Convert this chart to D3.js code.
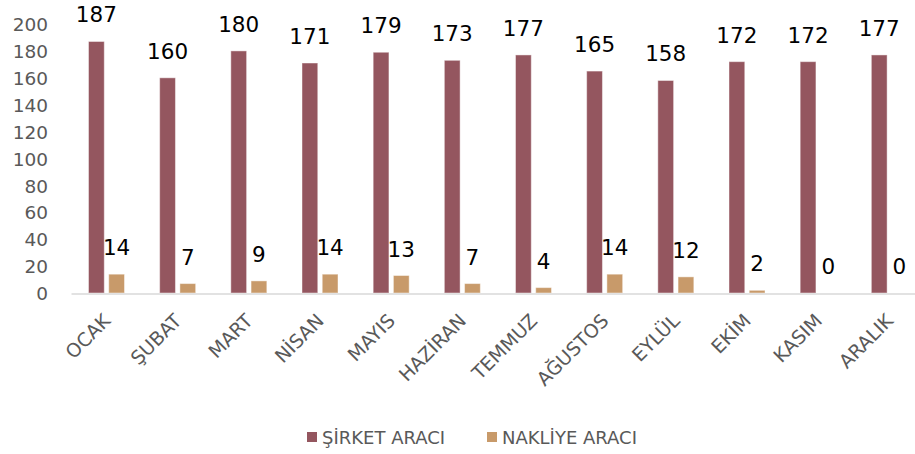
<!DOCTYPE html>
<html>
<head>
<meta charset="utf-8">
<script src="https://cdn.jsdelivr.net/npm/d3@7"></script>
<style>
  html, body { margin: 0; padding: 0; background: #fff; }
  svg { display: block; }
  text { font-family: "DejaVu Sans", sans-serif; }
</style>
</head>
<body>
<svg id="chart" width="915" height="454"></svg>
<script>
const months = ["OCAK", "ŞUBAT", "MART", "NİSAN", "MAYIS", "HAZİRAN", "TEMMUZ", "AĞUSTOS", "EYLÜL", "EKİM", "KASIM", "ARALIK"];
const seriesNames = ["ŞİRKET ARACI", "NAKLİYE ARACI"];
const sirketValues = [187, 160, 180, 171, 179, 173, 177, 165, 158, 172, 172, 177];
const nakliyeValues = [14, 7, 9, 14, 13, 7, 4, 14, 12, 2, 0, 0];
const yTicks = [0, 20, 40, 60, 80, 100, 120, 140, 160, 180, 200];
const colors = ["#94565F", "#C89A6A"];

const svg = d3.select("#chart");

const x0 = d3.scaleBand().domain(months).range([71, 925]).padding(0);
const x1 = d3.scaleBand().domain(seriesNames).range([17.5, 53.5]).paddingInner(0.22);
const y = d3.scaleLinear().domain([0, 200]).range([293, 24]);

const seriesValues = [sirketValues, nakliyeValues];
const data = months.map((m, i) => ({ month: m, values: seriesNames.map((s, j) => ({ series: s, idx: j, value: seriesValues[j][i] })) }));

// y axis labels (no line)
const yAxis = d3.axisLeft(y).tickValues(yTicks).tickSize(0).tickPadding(0);
const yg = svg.append("g").attr("transform", "translate(48,0)").call(yAxis);
yg.select(".domain").remove();
yg.selectAll("text").attr("font-size", 18.5).attr("fill", "#595959")
  .attr("font-family", "DejaVu Sans, sans-serif").attr("dy", "0.36em");

// bars
const groups = svg.append("g").selectAll("g").data(data).join("g")
  .attr("transform", d => `translate(${x0(d.month)},0)`);

groups.selectAll("rect").data(d => d.values).join("rect")
  .attr("x", d => x1(d.series))
  .attr("width", x1.bandwidth())
  .attr("y", d => y(d.value))
  .attr("height", d => y(0) - y(d.value))
  .attr("fill", d => colors[d.idx])
  .attr("stroke", "rgba(255,255,255,0.45)")
  .attr("stroke-width", 1);

groups.selectAll("text.lbl").data(d => d.values).join("text")
  .attr("class", "lbl")
  .attr("x", d => x1(d.series) + x1.bandwidth() / 2)
  .attr("y", d => y(d.value) - 19)
  .attr("text-anchor", "middle")
  .attr("font-size", 21.5)
  .attr("fill", "#000")
  .text(d => d.value);

// x axis line
const xAxis = d3.axisBottom(x0).tickSize(0).tickFormat("");
const xg = svg.append("g").attr("transform", `translate(0,${y(0) + 0.5})`).call(xAxis);
xg.select(".domain").attr("stroke", "#d9d9d9").attr("stroke-width", 1.5);

// x labels rotated
svg.append("g").selectAll("text").data(months).join("text")
  .attr("transform", m => `translate(${x0(m) + x0.bandwidth() / 2 + 5},322) rotate(-45)`)
  .attr("text-anchor", "end")
  .attr("font-size", 19)
  .attr("fill", "#595959")
  .text(m => m);

// legend
const legendX = [307, 487];
const lg = svg.append("g").selectAll("g").data(seriesNames).join("g")
  .attr("transform", (d, i) => `translate(${legendX[i]},432)`);
lg.append("rect").attr("width", 10).attr("height", 10).attr("fill", (d, i) => colors[i]);
lg.append("text").attr("x", 15).attr("y", 11.5).attr("font-size", 18).attr("fill", "#595959").text(d => d);
</script>
</body>
</html>
